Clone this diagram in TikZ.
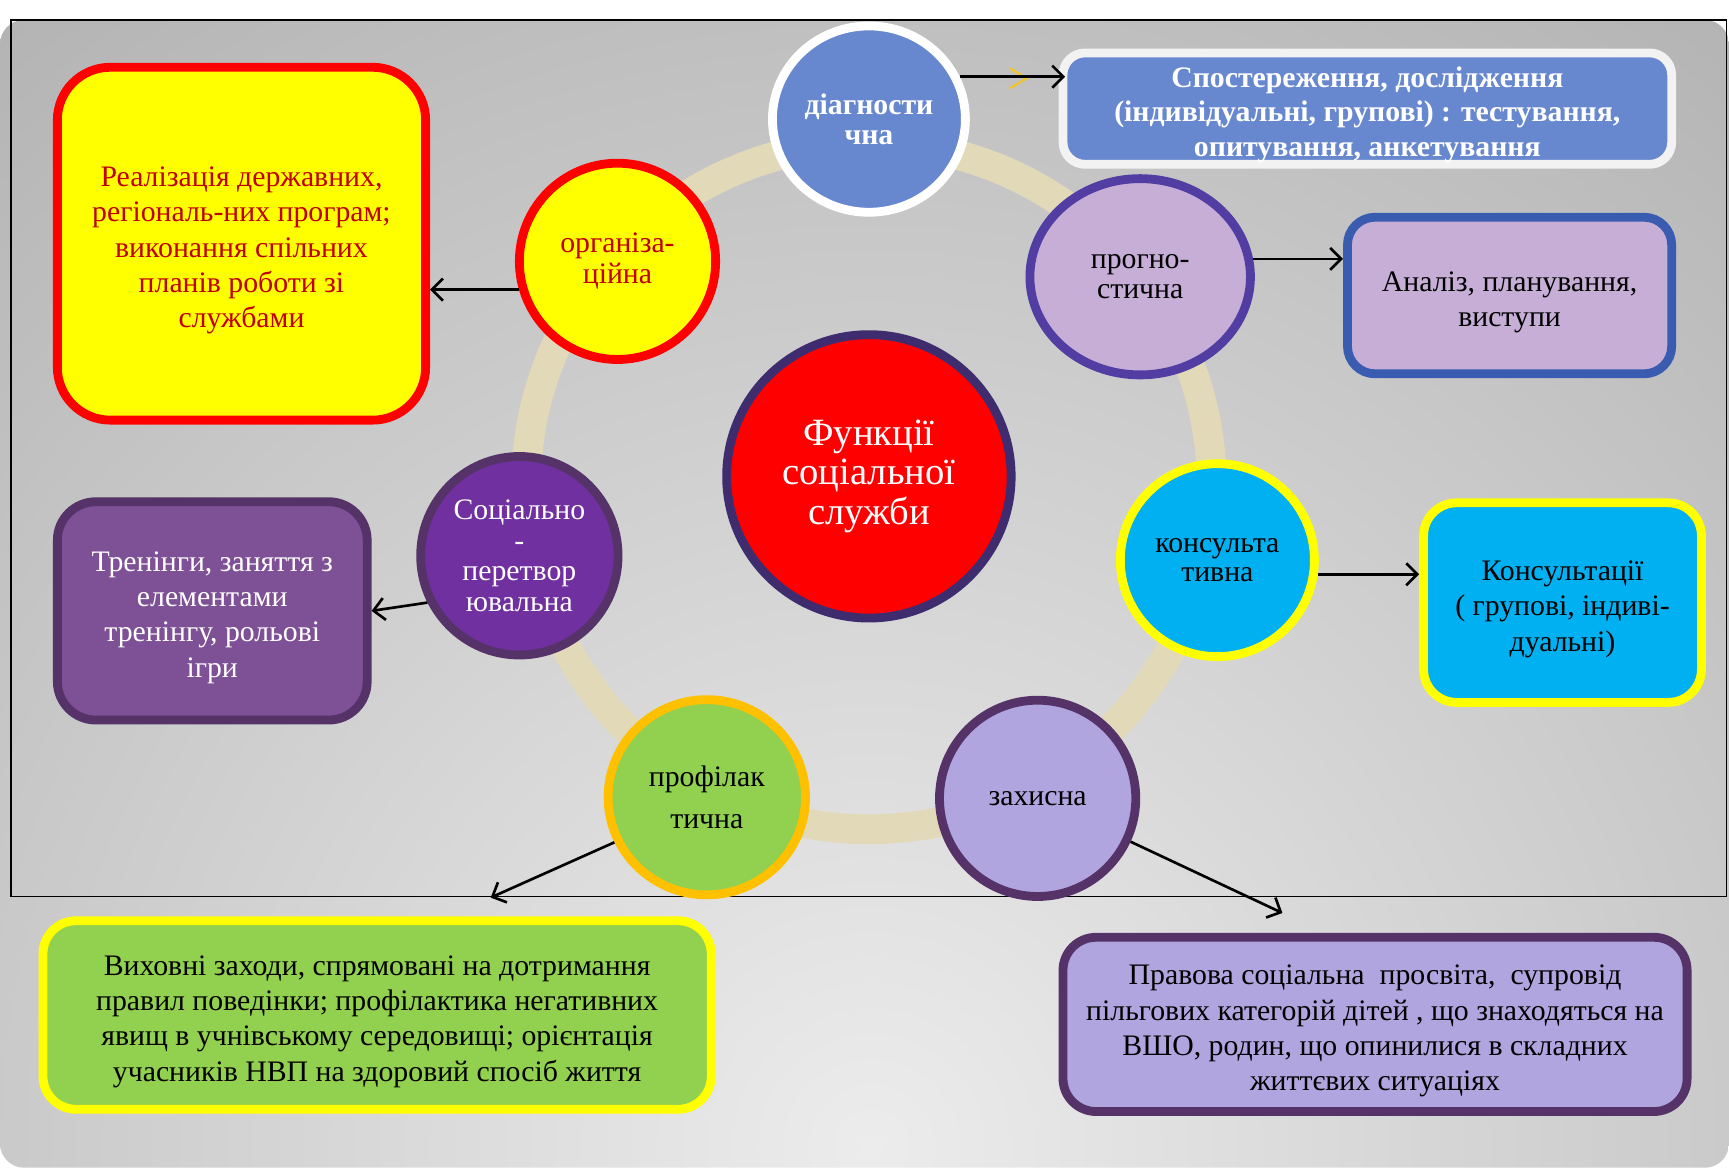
\documentclass[tikz,border=0pt]{standalone}
\usepackage{fontspec}
\setmainfont{Liberation Serif}
\usetikzlibrary{shapes.geometric,arrows.meta}
\definecolor{ringc}{RGB}{226,217,185}
\definecolor{diagblue}{RGB}{103,135,207}
\definecolor{lilac}{RGB}{198,174,214}
\definecolor{lav}{RGB}{176,165,222}
\definecolor{violetf}{RGB}{112,48,160}
\definecolor{plum}{RGB}{126,80,150}
\definecolor{dpurp}{RGB}{85,51,104}
\definecolor{progb}{RGB}{82,62,163}
\definecolor{bluebd}{RGB}{58,92,176}
\definecolor{cyanf}{RGB}{0,176,240}
\definecolor{greenf}{RGB}{146,208,80}
\definecolor{amber}{RGB}{255,192,0}
\definecolor{dred}{RGB}{192,0,0}
\definecolor{indigoc}{RGB}{62,44,110}
\definecolor{offwhite}{RGB}{242,242,242}
\definecolor{bgin}{RGB}{236,236,236}
\definecolor{bgout}{RGB}{118,118,118}
\definecolor{chev}{RGB}{240,196,40}
\definecolor{pureyellow}{RGB}{255,255,0}
\begin{document}
\begin{tikzpicture}[x=1pt,y=-1pt,
  func/.style={ellipse, inner sep=0pt, line width=8pt, align=center,
    font=\fontsize{27}{27}\selectfont},
  infobox/.style={rectangle, inner sep=0pt, line width=8pt, align=center,
    font=\fontsize{27}{32}\selectfont},
  link/.style={line width=2.4pt, -{Straight Barb[length=10pt,width=20pt]}}]
\useasboundingbox (0,0) rectangle (1568,1059);
% background
\begin{scope}
  \clip[rounded corners=22pt] (0,18) rectangle (1568,1059);
  \shade[inner color=bgin, outer color=bgout] (790,1040) circle (2700pt);
\end{scope}
\draw[black, line width=1.2pt] (10,18) rectangle (1566,813);
% ring
\draw[ringc, line width=27pt] (788,441) circle (311pt);
% centre
\node[func, fill=red, draw=indigoc, text=white, minimum width=258pt, minimum height=257pt,
  font=\fontsize{35}{36}\selectfont] (centre) at (788,432) {Функції\\соціальної\\служби};
% function circles
\node[func, fill=diagblue, draw=white, text=white, minimum width=175pt, minimum height=169pt,
  font=\fontsize{27}{27}\selectfont\bfseries] (diag) at (788,108) {діагности\\чна};
\node[func, fill=pureyellow, draw=red, text=dred, minimum width=178pt, minimum height=178pt,
  font=\fontsize{27}{28}\selectfont] (org) at (560,237) {організа-\\ційна};
\node[func, fill=lilac, draw=progb, minimum width=200pt, minimum height=178pt] (prog) at (1034,251) {прогно-\\стична};
\node[func, fill=cyanf, draw=pureyellow, minimum width=176pt, minimum height=175pt,
  font=\fontsize{27}{26}\selectfont] (kons) at (1104,508) {консульта\\тивна};
\node[func, fill=lav, draw=dpurp, minimum width=178pt, minimum height=178pt] (zakh) at (941,724) {захисна};
\node[func, fill=greenf, draw=amber, minimum width=179pt, minimum height=177pt,
  font=\fontsize{27}{38}\selectfont] (prof) at (641,723) {профілак\\тична};
\node[func, fill=violetf, draw=dpurp, text=white, minimum width=179pt, minimum height=180pt,
  font=\fontsize{27}{28}\selectfont] (soc) at (471,504) {Соціально\\-\\перетвор\\ювальна};
% boxes
\node[infobox, rounded corners=48pt, fill=pureyellow, draw=red, text=dred,
  minimum width=334pt, minimum height=320pt] (orgbox) at (219,221)
  {\rule{0pt}{30pt}Реалізація державних,\\регіональ-них програм;\\виконання спільних\\планів роботи зі\\службами};
\node[infobox, rounded corners=20pt, fill=diagblue, draw=offwhite, text=white,
  minimum width=552pt, minimum height=101pt, font=\fontsize{27}{31.5}\selectfont\bfseries] (diagbox) at (1240,98.5)
  {\rule{0pt}{30pt}Спостереження, дослідження\\(індивідуальні, групові) : тестування,\\опитування, анкетування};
\node[infobox, rounded corners=25pt, fill=lilac, draw=bluebd,
  minimum width=294pt, minimum height=142pt] (progbox) at (1369,268)
  {\rule{0pt}{30pt}Аналіз, планування,\\виступи};
\node[infobox, rounded corners=30pt, fill=cyanf, draw=pureyellow,
  minimum width=252pt, minimum height=181pt] (konsbox) at (1417,546.5)
  {\rule{0pt}{30pt}Консультації\\( групові, індиві-\\дуальні)};
\node[infobox, rounded corners=35pt, fill=plum, draw=dpurp, text=white,
  minimum width=281pt, minimum height=198pt] (socbox) at (192.5,554)
  {\rule{0pt}{30pt}Тренінги, заняття з\\елементами\\тренінгу, рольові\\ігри};
\node[infobox, rounded corners=30pt, fill=greenf, draw=pureyellow,
  minimum width=606pt, minimum height=171pt] (profbox) at (342,920.5)
  {\rule{0pt}{30pt}Виховні заходи, спрямовані на дотримання\\правил поведінки; профілактика негативних\\явищ в учнівському середовищі; орієнтація\\учасників НВП на здоровий спосіб життя};
\node[infobox, rounded corners=30pt, fill=lav, draw=dpurp,
  minimum width=566pt, minimum height=158pt] (zakhbox) at (1247,929)
  {\rule{0pt}{30pt}Правова соціальна\ \ просвіта,\ \ супровід\\пільгових категорій дітей , що знаходяться на\\ВШО, родин, що опинилися в складних\\життєвих ситуаціях};
% connectors
\draw[chev, line width=2pt] (916,62) -- (931,71) -- (916,80);
\draw[link] (diag.25) -- ([xshift=6pt]diag.25 -| diagbox.west);
\draw[link] (prog.9) -- (prog.9 -| progbox.west);
\draw[link] (kons.-8) -- (kons.-8 -| konsbox.west);
\draw[link] (org.196) -- (org.196 -| orgbox.east);
\draw[link] (soc.207) -- (socbox.east);
\draw[link] (prof.206) -- ([xshift=103pt,yshift=17pt]profbox.north);
\draw[link] (zakh.-25) -- ([xshift=-84pt,yshift=18pt]zakhbox.north);
\end{tikzpicture}
\end{document}
